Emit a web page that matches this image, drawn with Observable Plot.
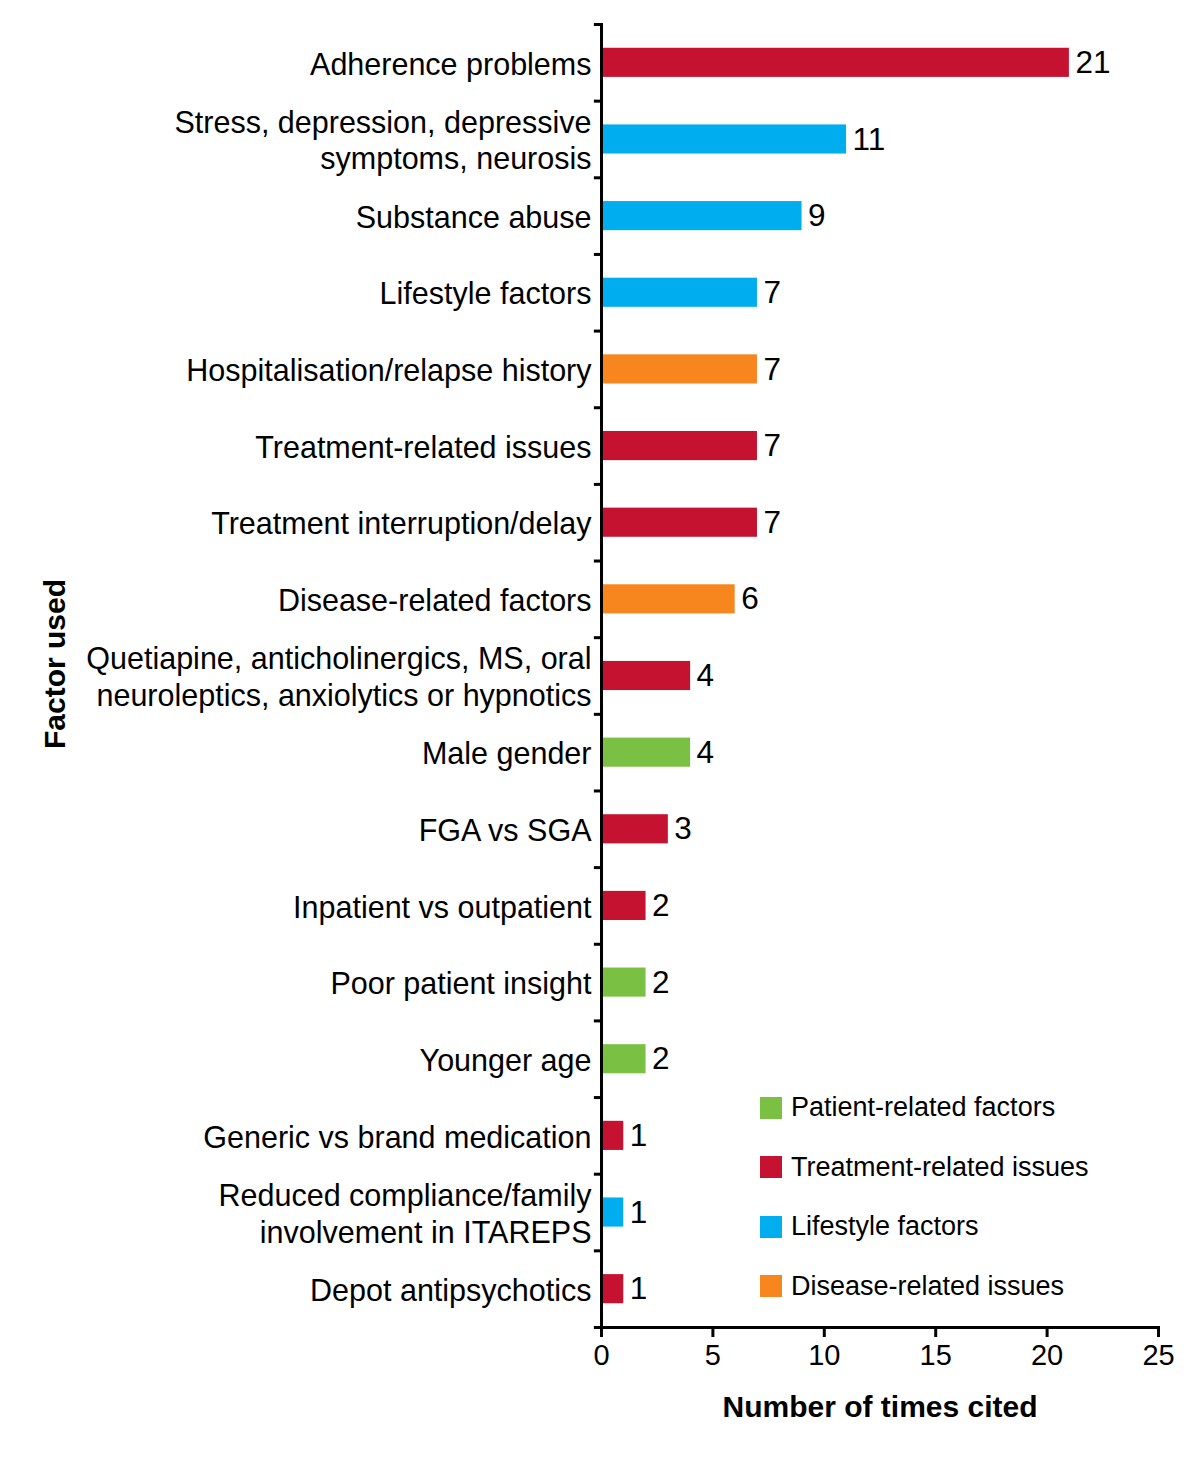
<!DOCTYPE html>
<html><head><meta charset="utf-8">
<script src="https://cdn.jsdelivr.net/npm/d3@7"></script>
<script src="https://cdn.jsdelivr.net/npm/@observablehq/plot@0.6"></script>
<style>
body{margin:0;background:#fff;font-family:"Liberation Sans",Arial,sans-serif}
#wrap{position:relative;width:1200px;height:1473px}
#legend{position:absolute;left:760px;top:1094px;font-size:27px;color:#000}
#legend .row{display:flex;align-items:center;height:27px;margin-bottom:32.5px}
#legend .sw{width:22px;height:22px;margin-right:9px}
</style></head><body><div id="wrap"><div id="legend"></div></div>
<script>
const factors = [
  "Adherence problems",
  "Stress, depression, depressive\nsymptoms, neurosis",
  "Substance abuse",
  "Lifestyle factors",
  "Hospitalisation/relapse history",
  "Treatment-related issues",
  "Treatment interruption/delay",
  "Disease-related factors",
  "Quetiapine, anticholinergics, MS, oral\nneuroleptics, anxiolytics or hypnotics",
  "Male gender",
  "FGA vs SGA",
  "Inpatient vs outpatient",
  "Poor patient insight",
  "Younger age",
  "Generic vs brand medication",
  "Reduced compliance/family\ninvolvement in ITAREPS",
  "Depot antipsychotics"
];
const counts = [21, 11, 9, 7, 7, 7, 7, 6, 4, 4, 3, 2, 2, 2, 1, 1, 1];
const groups = [
  "Treatment-related issues",
  "Lifestyle factors",
  "Lifestyle factors",
  "Lifestyle factors",
  "Disease-related issues",
  "Treatment-related issues",
  "Treatment-related issues",
  "Disease-related issues",
  "Treatment-related issues",
  "Patient-related factors",
  "Treatment-related issues",
  "Treatment-related issues",
  "Patient-related factors",
  "Patient-related factors",
  "Treatment-related issues",
  "Lifestyle factors",
  "Treatment-related issues"
];
const groupNames = ["Patient-related factors", "Treatment-related issues", "Lifestyle factors", "Disease-related issues"];
const groupColors = ["#7AC143", "#C41230", "#00ADEF", "#F7861F"];
const xTicks = [0, 5, 10, 15, 20, 25];

const data = factors.map((f, i) => ({factor: f, count: counts[i], group: groups[i]}));

const W = 1200, H = 1473, mt = 24, mb = 146, ml = 601, mr = 42;
const step = (H - mt - mb) / factors.length;

const chart = Plot.plot({
  width: W, height: H,
  marginTop: mt, marginBottom: mb, marginLeft: ml, marginRight: mr,
  style: {fontFamily: "'Liberation Sans', Arial, sans-serif", background: "#fff", color: "#000", overflow: "visible"},
  x: {domain: [0, 25]},
  y: {domain: factors, paddingInner: 0.62, paddingOuter: 0.31, round: false},
  color: {domain: groupNames, range: groupColors},
  marks: [
    Plot.barX(data, {y: "factor", x: "count", fill: "group"}),
    Plot.text(data, {y: "factor", x: "count", text: d => String(d.count), dx: 6, textAnchor: "start", fontSize: 31.5, fill: "#000"}),
    Plot.axisY({tickSize: 0, tickPadding: 10, fontSize: 30.5, lineHeight: 1.2, label: null}),
    Plot.ruleY(factors, {y: d => d, x1: -0.32, x2: 0, dy: -step / 2, strokeWidth: 3}),
    Plot.ruleY([factors[factors.length - 1]], {y: d => d, x1: -0.32, x2: 0, dy: step / 2, strokeWidth: 3}),
    Plot.axisX({ticks: xTicks, tickSize: 10, tickPadding: 7, fontSize: 29, strokeWidth: 3, label: null}),
    Plot.frame({anchor: "left", strokeWidth: 3}),
    Plot.frame({anchor: "bottom", strokeWidth: 3}),
    Plot.text(["Factor used"], {frameAnchor: "left", textAnchor: "middle", lineAnchor: "middle", rotate: -90, dx: -546, dy: -12, fontSize: 30, fontWeight: "bold", fill: "#000"}),
    Plot.text(["Number of times cited"], {frameAnchor: "bottom", textAnchor: "middle", lineAnchor: "middle", dy: 80, fontSize: 30, fontWeight: "bold", fill: "#000"})
  ]
});
const wrap = document.getElementById("wrap");
wrap.insertBefore(chart, wrap.firstChild);

const legend = document.getElementById("legend");
groupNames.forEach((g, i) => {
  const row = document.createElement("div");
  row.className = "row";
  const sw = document.createElement("div");
  sw.className = "sw";
  sw.style.background = groupColors[i];
  const t = document.createElement("span");
  t.textContent = g;
  row.appendChild(sw); row.appendChild(t);
  legend.appendChild(row);
});
</script>
</body></html>
